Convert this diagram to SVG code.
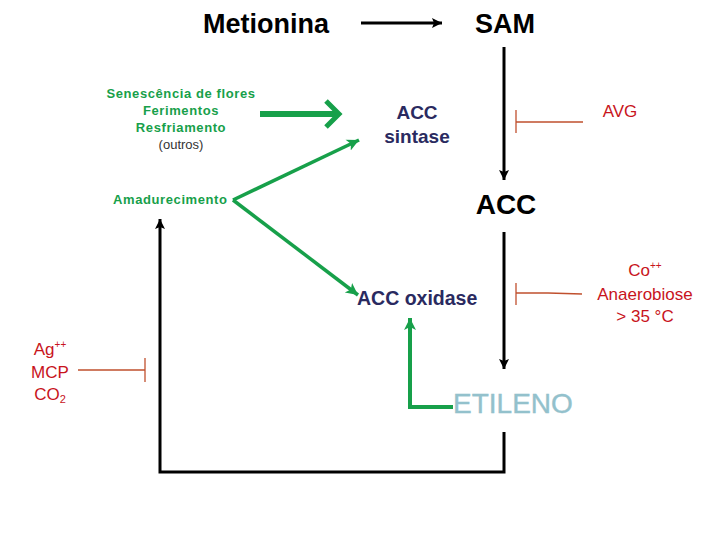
<svg xmlns="http://www.w3.org/2000/svg" width="720" height="540" viewBox="0 0 720 540">
<defs>
<style>
.t{font-family:"Liberation Sans",Arial,sans-serif}
.blk{fill:#000;font-weight:bold}
.navy{fill:#2a2a60;font-weight:bold}
.grn{fill:#17a04a;font-weight:bold;font-size:13px;letter-spacing:0.6px}
.red{fill:#c8141c;font-size:17px}
.ln{stroke:#000;stroke-width:3;fill:none}
.gl{stroke:#17a04a;fill:none}
.inh{stroke:#c0502e;stroke-width:1.3;fill:none}
</style>
<marker id="ab" markerUnits="userSpaceOnUse" markerWidth="14" markerHeight="14" refX="10" refY="6" orient="auto">
<path d="M0,1 L10,6 L0,11 L2,6 Z" fill="#000"/>
</marker>
<marker id="ag" markerUnits="userSpaceOnUse" markerWidth="16" markerHeight="16" refX="12" refY="7" orient="auto">
<path d="M0,1 L12,7 L0,13 L3,7 Z" fill="#17a04a"/>
</marker>
</defs>
<rect width="720" height="540" fill="#fff"/>

<g id="connectors">
<line class="ln" x1="361" y1="23" x2="442" y2="23" stroke-width="2" marker-end="url(#ab)"/>
<line class="ln" x1="504" y1="47" x2="504" y2="180" marker-end="url(#ab)"/>
<line class="ln" x1="504" y1="232" x2="504" y2="369" marker-end="url(#ab)"/>
<polyline class="ln" points="504,432 504,472 160,472 160,219" marker-end="url(#ab)"/>
<line class="gl" x1="260" y1="114" x2="336" y2="114" stroke-width="6"/>
<polyline class="gl" points="326,101 339,114 326,127" stroke-width="5"/>
<line class="gl" x1="233" y1="200" x2="359" y2="140" stroke-width="3.5" marker-end="url(#ag)"/>
<line class="gl" x1="233" y1="200" x2="358" y2="295" stroke-width="3.5" marker-end="url(#ag)"/>
<polyline class="gl" points="453,407 410,407 410,318" stroke-width="4" marker-end="url(#ag)"/>
<path class="inh" d="M516,110 V133 M516,122 H583"/>
<path class="inh" d="M516,283 V305 M516,293 H548 L582,294"/>
<path class="inh" d="M145,358 V382 M145,370 H78"/>
</g>

<g id="metionina"><text class="t blk" x="266" y="33" font-size="27" text-anchor="middle">Metionina</text></g>
<g id="sam"><text class="t blk" x="505" y="33" font-size="27" text-anchor="middle">SAM</text></g>
<g id="acc"><text class="t blk" x="506" y="214" font-size="28" text-anchor="middle">ACC</text></g>
<g id="acc-sintase" class="t navy" font-size="19" text-anchor="middle">
<text x="417" y="119">ACC</text><text x="417" y="143">sintase</text>
</g>
<g id="acc-oxidase"><text class="t navy" x="357" y="305" font-size="19.5">ACC oxidase</text></g>
<g id="etileno"><text class="t" x="453" y="413" font-size="28" fill="#93c1cc" stroke="#93c1cc" stroke-width="0.4">ETILENO</text></g>
<g id="estimulos" class="t" text-anchor="middle">
<text class="grn" x="181" y="98">Senescência  de flores</text>
<text class="grn" x="181" y="115">Ferimentos</text>
<text class="grn" x="181" y="132">Resfriamento</text>
<text x="181" y="149" font-size="13" fill="#333">(outros)</text>
</g>
<g id="amadurecimento"><text class="t grn" x="113" y="204">Amadurecimento</text></g>
<g id="avg"><text class="t red" x="620" y="117" text-anchor="middle">AVG</text></g>
<g id="inibidores-oxidase" class="t red" text-anchor="middle">
<text x="645" y="276">Co<tspan font-size="10" dy="-7">++</tspan></text>
<text x="645" y="300">Anaerobiose</text>
<text x="645" y="322">&gt; 35 °C</text>
</g>
<g id="inibidores-etileno" class="t red" text-anchor="middle">
<text x="50" y="355">Ag<tspan font-size="10" dy="-7">++</tspan></text>
<text x="50" y="378">MCP</text>
<text x="50" y="400">CO<tspan font-size="11" dy="3">2</tspan></text>
</g>
</svg>
